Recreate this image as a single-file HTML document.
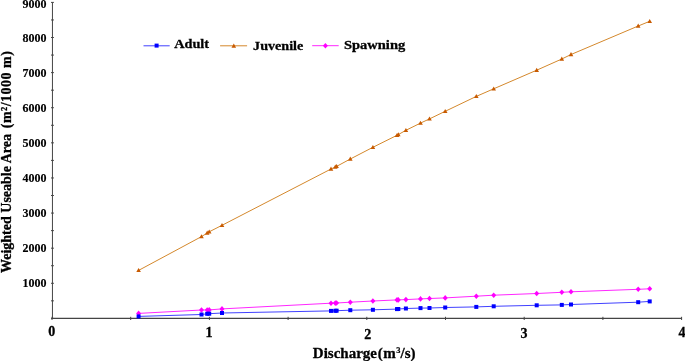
<!DOCTYPE html>
<html><head><meta charset="utf-8"><style>
html,body{margin:0;padding:0;background:#fff;}
body{width:685px;height:361px;overflow:hidden;}
svg{display:block;will-change:transform;}
text{font-family:"Liberation Serif",serif;font-weight:bold;fill:#000;stroke:#000;stroke-width:0.3px;}
.yl{font-size:12px;stroke-width:0.15px;}
.xl{font-size:14px;}
.lg{font-size:13.5px;}
.xt{font-size:15px;}
.yt{font-size:14px;}
</style></head><body>
<svg width="685" height="361" viewBox="0 0 685 361">
<line x1="52.45" y1="2.4" x2="52.45" y2="318.4" stroke="#444" stroke-width="1"/>
<line x1="52.0" y1="318.4" x2="681.6" y2="318.4" stroke="#444" stroke-width="1.1"/>
<line x1="51.0" y1="318.40" x2="53.9" y2="318.40" stroke="#444" stroke-width="1"/>
<line x1="51.0" y1="300.84" x2="53.9" y2="300.84" stroke="#444" stroke-width="1"/>
<line x1="51.0" y1="283.29" x2="53.9" y2="283.29" stroke="#444" stroke-width="1"/>
<line x1="51.0" y1="265.73" x2="53.9" y2="265.73" stroke="#444" stroke-width="1"/>
<line x1="51.0" y1="248.18" x2="53.9" y2="248.18" stroke="#444" stroke-width="1"/>
<line x1="51.0" y1="230.62" x2="53.9" y2="230.62" stroke="#444" stroke-width="1"/>
<line x1="51.0" y1="213.07" x2="53.9" y2="213.07" stroke="#444" stroke-width="1"/>
<line x1="51.0" y1="195.51" x2="53.9" y2="195.51" stroke="#444" stroke-width="1"/>
<line x1="51.0" y1="177.96" x2="53.9" y2="177.96" stroke="#444" stroke-width="1"/>
<line x1="51.0" y1="160.40" x2="53.9" y2="160.40" stroke="#444" stroke-width="1"/>
<line x1="51.0" y1="142.84" x2="53.9" y2="142.84" stroke="#444" stroke-width="1"/>
<line x1="51.0" y1="125.29" x2="53.9" y2="125.29" stroke="#444" stroke-width="1"/>
<line x1="51.0" y1="107.73" x2="53.9" y2="107.73" stroke="#444" stroke-width="1"/>
<line x1="51.0" y1="90.18" x2="53.9" y2="90.18" stroke="#444" stroke-width="1"/>
<line x1="51.0" y1="72.62" x2="53.9" y2="72.62" stroke="#444" stroke-width="1"/>
<line x1="51.0" y1="55.07" x2="53.9" y2="55.07" stroke="#444" stroke-width="1"/>
<line x1="51.0" y1="37.51" x2="53.9" y2="37.51" stroke="#444" stroke-width="1"/>
<line x1="51.0" y1="19.96" x2="53.9" y2="19.96" stroke="#444" stroke-width="1"/>
<line x1="51.0" y1="2.40" x2="53.9" y2="2.40" stroke="#444" stroke-width="1"/>
<line x1="52.00" y1="316.79999999999995" x2="52.00" y2="320.0" stroke="#444" stroke-width="1"/>
<line x1="130.70" y1="316.79999999999995" x2="130.70" y2="320.0" stroke="#444" stroke-width="1"/>
<line x1="209.40" y1="316.79999999999995" x2="209.40" y2="320.0" stroke="#444" stroke-width="1"/>
<line x1="288.10" y1="316.79999999999995" x2="288.10" y2="320.0" stroke="#444" stroke-width="1"/>
<line x1="366.80" y1="316.79999999999995" x2="366.80" y2="320.0" stroke="#444" stroke-width="1"/>
<line x1="445.50" y1="316.79999999999995" x2="445.50" y2="320.0" stroke="#444" stroke-width="1"/>
<line x1="524.20" y1="316.79999999999995" x2="524.20" y2="320.0" stroke="#444" stroke-width="1"/>
<line x1="602.90" y1="316.79999999999995" x2="602.90" y2="320.0" stroke="#444" stroke-width="1"/>
<line x1="681.60" y1="316.79999999999995" x2="681.60" y2="320.0" stroke="#444" stroke-width="1"/>
<text x="46.5" y="287.29" text-anchor="end" class="yl">1000</text>
<text x="46.5" y="252.18" text-anchor="end" class="yl">2000</text>
<text x="46.5" y="217.07" text-anchor="end" class="yl">3000</text>
<text x="46.5" y="181.96" text-anchor="end" class="yl">4000</text>
<text x="46.5" y="146.84" text-anchor="end" class="yl">5000</text>
<text x="46.5" y="111.73" text-anchor="end" class="yl">6000</text>
<text x="46.5" y="76.62" text-anchor="end" class="yl">7000</text>
<text x="46.5" y="41.51" text-anchor="end" class="yl">8000</text>
<text x="46.5" y="7.60" text-anchor="end" class="yl">9000</text>
<text x="51.7" y="336.0" text-anchor="middle" class="xl">0</text>
<text x="209.1" y="337.0" text-anchor="middle" class="xl">1</text>
<text x="367.7" y="338.6" text-anchor="middle" class="xl">2</text>
<text x="524.0" y="338.0" text-anchor="middle" class="xl">3</text>
<text x="682.0" y="336.6" text-anchor="middle" class="xl">4</text>
<polyline points="138.6,316.4 201.5,314.5 207.2,313.8 209.2,313.7 222.0,313.0 331.0,310.9 335.3,310.8 336.6,310.7 350.3,310.2 372.9,309.8 397.0,309.1 398.3,309.0 405.9,308.5 420.5,308.1 429.5,308.0 445.2,307.5 476.3,306.9 493.7,306.3 536.7,305.3 561.8,304.9 571.0,304.5 638.2,302.2 649.7,301.4" fill="none" stroke="#0000FF" stroke-width="1" opacity="0.75"/>
<polyline points="138.6,313.4 201.5,310.0 207.2,310.0 209.2,309.9 222.0,308.9 331.0,303.2 335.3,303.1 336.6,303.0 350.3,302.2 372.9,301.0 397.0,299.9 398.3,299.9 405.9,299.6 420.5,298.9 429.5,298.5 445.2,297.9 476.3,296.2 493.7,295.2 536.7,293.5 561.8,292.3 571.0,291.8 638.2,289.3 649.7,288.8" fill="none" stroke="#FF00FF" stroke-width="1" opacity="0.85"/>
<polyline points="138.6,270.4 201.5,236.6 207.2,233.0 209.2,231.8 222.0,225.3 331.0,169.0 335.3,167.0 336.6,166.4 350.3,159.0 372.9,147.3 397.0,135.3 398.3,134.6 405.9,130.3 420.5,123.1 429.5,118.9 445.2,111.3 476.3,96.4 493.7,88.8 536.7,70.2 561.8,59.0 571.0,54.5 638.2,26.0 649.7,21.3" fill="none" stroke="#D4882C" stroke-width="1"/>
<path d="M138.60,310.60 L141.10,313.40 L138.60,316.20 L136.10,313.40Z" fill="#FF00FF"/>
<path d="M201.50,307.20 L204.00,310.00 L201.50,312.80 L199.00,310.00Z" fill="#FF00FF"/>
<path d="M207.20,307.20 L209.70,310.00 L207.20,312.80 L204.70,310.00Z" fill="#FF00FF"/>
<path d="M209.20,307.10 L211.70,309.90 L209.20,312.70 L206.70,309.90Z" fill="#FF00FF"/>
<path d="M222.00,306.10 L224.50,308.90 L222.00,311.70 L219.50,308.90Z" fill="#FF00FF"/>
<path d="M331.00,300.40 L333.50,303.20 L331.00,306.00 L328.50,303.20Z" fill="#FF00FF"/>
<path d="M335.30,300.30 L337.80,303.10 L335.30,305.90 L332.80,303.10Z" fill="#FF00FF"/>
<path d="M336.60,300.20 L339.10,303.00 L336.60,305.80 L334.10,303.00Z" fill="#FF00FF"/>
<path d="M350.30,299.40 L352.80,302.20 L350.30,305.00 L347.80,302.20Z" fill="#FF00FF"/>
<path d="M372.90,298.20 L375.40,301.00 L372.90,303.80 L370.40,301.00Z" fill="#FF00FF"/>
<path d="M397.00,297.10 L399.50,299.90 L397.00,302.70 L394.50,299.90Z" fill="#FF00FF"/>
<path d="M398.30,297.10 L400.80,299.90 L398.30,302.70 L395.80,299.90Z" fill="#FF00FF"/>
<path d="M405.90,296.80 L408.40,299.60 L405.90,302.40 L403.40,299.60Z" fill="#FF00FF"/>
<path d="M420.50,296.10 L423.00,298.90 L420.50,301.70 L418.00,298.90Z" fill="#FF00FF"/>
<path d="M429.50,295.70 L432.00,298.50 L429.50,301.30 L427.00,298.50Z" fill="#FF00FF"/>
<path d="M445.20,295.10 L447.70,297.90 L445.20,300.70 L442.70,297.90Z" fill="#FF00FF"/>
<path d="M476.30,293.40 L478.80,296.20 L476.30,299.00 L473.80,296.20Z" fill="#FF00FF"/>
<path d="M493.70,292.40 L496.20,295.20 L493.70,298.00 L491.20,295.20Z" fill="#FF00FF"/>
<path d="M536.70,290.70 L539.20,293.50 L536.70,296.30 L534.20,293.50Z" fill="#FF00FF"/>
<path d="M561.80,289.50 L564.30,292.30 L561.80,295.10 L559.30,292.30Z" fill="#FF00FF"/>
<path d="M571.00,289.00 L573.50,291.80 L571.00,294.60 L568.50,291.80Z" fill="#FF00FF"/>
<path d="M638.20,286.50 L640.70,289.30 L638.20,292.10 L635.70,289.30Z" fill="#FF00FF"/>
<path d="M649.70,286.00 L652.20,288.80 L649.70,291.60 L647.20,288.80Z" fill="#FF00FF"/>
<rect x="136.60" y="314.40" width="4.0" height="4.0" fill="#0000FF"/>
<rect x="199.50" y="312.50" width="4.0" height="4.0" fill="#0000FF"/>
<rect x="205.20" y="311.80" width="4.0" height="4.0" fill="#0000FF"/>
<rect x="207.20" y="311.70" width="4.0" height="4.0" fill="#0000FF"/>
<rect x="220.00" y="311.00" width="4.0" height="4.0" fill="#0000FF"/>
<rect x="329.00" y="308.90" width="4.0" height="4.0" fill="#0000FF"/>
<rect x="333.30" y="308.80" width="4.0" height="4.0" fill="#0000FF"/>
<rect x="334.60" y="308.70" width="4.0" height="4.0" fill="#0000FF"/>
<rect x="348.30" y="308.20" width="4.0" height="4.0" fill="#0000FF"/>
<rect x="370.90" y="307.80" width="4.0" height="4.0" fill="#0000FF"/>
<rect x="395.00" y="307.10" width="4.0" height="4.0" fill="#0000FF"/>
<rect x="396.30" y="307.00" width="4.0" height="4.0" fill="#0000FF"/>
<rect x="403.90" y="306.50" width="4.0" height="4.0" fill="#0000FF"/>
<rect x="418.50" y="306.10" width="4.0" height="4.0" fill="#0000FF"/>
<rect x="427.50" y="306.00" width="4.0" height="4.0" fill="#0000FF"/>
<rect x="443.20" y="305.50" width="4.0" height="4.0" fill="#0000FF"/>
<rect x="474.30" y="304.90" width="4.0" height="4.0" fill="#0000FF"/>
<rect x="491.70" y="304.30" width="4.0" height="4.0" fill="#0000FF"/>
<rect x="534.70" y="303.30" width="4.0" height="4.0" fill="#0000FF"/>
<rect x="559.80" y="302.90" width="4.0" height="4.0" fill="#0000FF"/>
<rect x="569.00" y="302.50" width="4.0" height="4.0" fill="#0000FF"/>
<rect x="636.20" y="300.20" width="4.0" height="4.0" fill="#0000FF"/>
<rect x="647.70" y="299.40" width="4.0" height="4.0" fill="#0000FF"/>
<path d="M138.60,268.00 L140.90,272.10 L136.30,272.10Z" fill="#C85A00"/>
<path d="M201.50,234.20 L203.80,238.30 L199.20,238.30Z" fill="#C85A00"/>
<path d="M207.20,230.60 L209.50,234.70 L204.90,234.70Z" fill="#C85A00"/>
<path d="M209.20,229.40 L211.50,233.50 L206.90,233.50Z" fill="#C85A00"/>
<path d="M222.00,222.90 L224.30,227.00 L219.70,227.00Z" fill="#C85A00"/>
<path d="M331.00,166.60 L333.30,170.70 L328.70,170.70Z" fill="#C85A00"/>
<path d="M335.30,164.60 L337.60,168.70 L333.00,168.70Z" fill="#C85A00"/>
<path d="M336.60,164.00 L338.90,168.10 L334.30,168.10Z" fill="#C85A00"/>
<path d="M350.30,156.60 L352.60,160.70 L348.00,160.70Z" fill="#C85A00"/>
<path d="M372.90,144.90 L375.20,149.00 L370.60,149.00Z" fill="#C85A00"/>
<path d="M397.00,132.90 L399.30,137.00 L394.70,137.00Z" fill="#C85A00"/>
<path d="M398.30,132.20 L400.60,136.30 L396.00,136.30Z" fill="#C85A00"/>
<path d="M405.90,127.90 L408.20,132.00 L403.60,132.00Z" fill="#C85A00"/>
<path d="M420.50,120.70 L422.80,124.80 L418.20,124.80Z" fill="#C85A00"/>
<path d="M429.50,116.50 L431.80,120.60 L427.20,120.60Z" fill="#C85A00"/>
<path d="M445.20,108.90 L447.50,113.00 L442.90,113.00Z" fill="#C85A00"/>
<path d="M476.30,94.00 L478.60,98.10 L474.00,98.10Z" fill="#C85A00"/>
<path d="M493.70,86.40 L496.00,90.50 L491.40,90.50Z" fill="#C85A00"/>
<path d="M536.70,67.80 L539.00,71.90 L534.40,71.90Z" fill="#C85A00"/>
<path d="M561.80,56.60 L564.10,60.70 L559.50,60.70Z" fill="#C85A00"/>
<path d="M571.00,52.10 L573.30,56.20 L568.70,56.20Z" fill="#C85A00"/>
<path d="M638.20,23.60 L640.50,27.70 L635.90,27.70Z" fill="#C85A00"/>
<path d="M649.70,18.90 L652.00,23.00 L647.40,23.00Z" fill="#C85A00"/>
<line x1="143.5" y1="45.8" x2="169.7" y2="45.8" stroke="#0000FF" stroke-width="1" opacity="0.75"/>
<rect x="154.60" y="43.60" width="4.0" height="4.0" fill="#0000FF"/>
<line x1="220.1" y1="45.8" x2="247.1" y2="45.8" stroke="#D4882C" stroke-width="1"/>
<path d="M233.80,43.60 L236.10,47.70 L231.50,47.70Z" fill="#C85A00"/>
<line x1="312.2" y1="45.7" x2="338.7" y2="45.7" stroke="#FF00FF" stroke-width="1" opacity="0.85"/>
<path d="M325.40,42.90 L327.90,45.70 L325.40,48.50 L322.90,45.70Z" fill="#FF00FF"/>
<text x="174.2" y="47.8" class="lg" textLength="34.8" lengthAdjust="spacingAndGlyphs">Adult</text>
<text x="253.1" y="49.7" class="lg" textLength="50.2" lengthAdjust="spacingAndGlyphs">Juvenile</text>
<text x="344.0" y="48.7" class="lg" textLength="61.2" lengthAdjust="spacingAndGlyphs">Spawning</text>
<text x="312.8" y="357.7" class="xt">Discharge<tspan dx="0.7">(</tspan><tspan dx="0.6">m</tspan><tspan font-size="8.5" dy="-4.4" dx="0.5" stroke-width="0.2">3</tspan><tspan dy="4.4" dx="0.0">/s)</tspan></text>
<text transform="translate(11.3,273.0) rotate(-90)" x="0" y="0" class="yt">Weighted Useable Area</text>
<text transform="translate(11.3,128.2) rotate(-90)" x="0" y="0" class="yt" textLength="77" lengthAdjust="spacing">(m²/1000 m)</text>
</svg>
</body></html>
